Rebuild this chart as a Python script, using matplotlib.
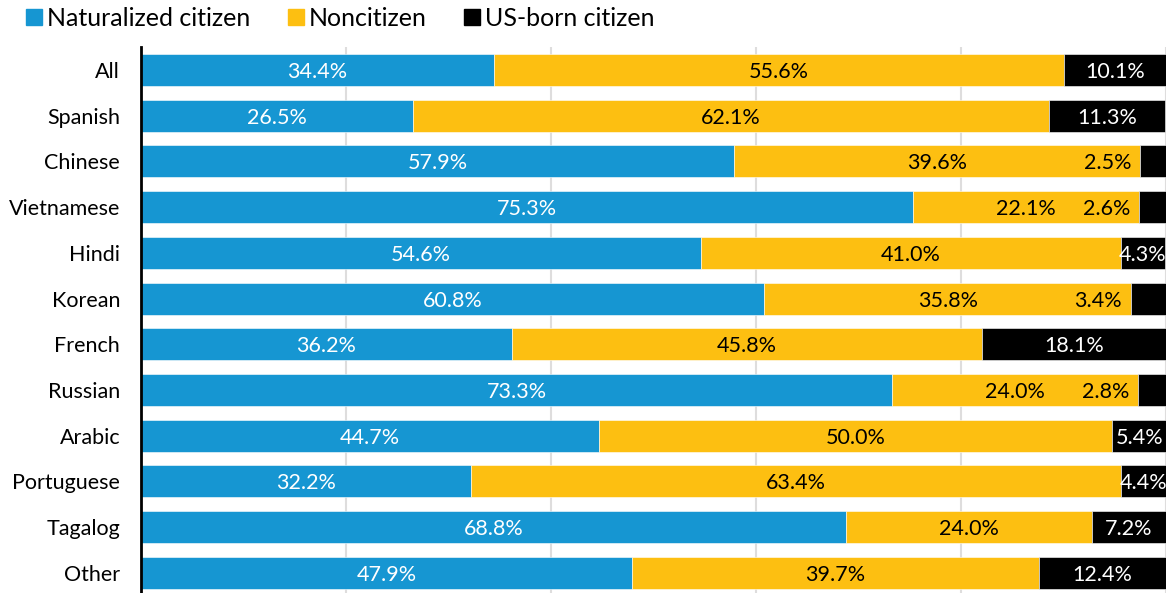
import numpy as np
import matplotlib
matplotlib.use("Agg")
import matplotlib.pyplot as plt
from matplotlib.patches import Patch

plt.rcParams['font.family'] = ['Lato', 'DejaVu Sans']

# data
languages = ["All", "Spanish", "Chinese", "Vietnamese", "Hindi", "Korean",
             "French", "Russian", "Arabic", "Portuguese", "Tagalog", "Other"]
naturalized = [34.4, 26.5, 57.9, 75.3, 54.6, 60.8, 36.2, 73.3, 44.7, 32.2, 68.8, 47.9]
noncitizen = [55.6, 62.1, 39.6, 22.1, 41.0, 35.8, 45.8, 24.0, 50.0, 63.4, 24.0, 39.7]
usborn = [10.1, 11.3, 2.5, 2.6, 4.3, 3.4, 18.1, 2.8, 5.4, 4.4, 7.2, 12.4]

blue = "#1696d2"
yellow = "#fdbf11"
black = "#000000"

fig = plt.figure(figsize=(11.72, 5.93), dpi=100)
ax = fig.add_axes([141 / 1172, 0.0, 1025 / 1172, 1 - 47 / 593])

y = np.arange(len(languages))
nat = np.array(naturalized)
non = np.array(noncitizen)
usb = np.array(usborn)

h = 0.7
ax.barh(y, nat, height=h, color=blue, edgecolor="white", linewidth=0.4, zorder=2)
ax.barh(y, non, left=nat, height=h, color=yellow, edgecolor="white", linewidth=0.4, zorder=2)
ax.barh(y, usb, left=nat + non, height=h, color=black, edgecolor="white", linewidth=0.4, zorder=2)

fs = 15.5
for i in range(len(languages)):
    ax.text(nat[i] / 2, y[i], f"{nat[i]:.1f}%", ha="center", va="center_baseline",
            color="white", fontsize=fs, zorder=3)
    ax.text(nat[i] + non[i] / 2, y[i], f"{non[i]:.1f}%", ha="center", va="center_baseline",
            color="black", fontsize=fs, zorder=3)
    start = nat[i] + non[i]
    if usb[i] < 4:
        # small segment: put label inside the yellow part, just left of black
        ax.text(start - 0.9, y[i], f"{usb[i]:.1f}%", ha="right", va="center_baseline",
                color="black", fontsize=fs, zorder=3)
    else:
        ax.text(start + usb[i] / 2, y[i], f"{usb[i]:.1f}%", ha="center", va="center_baseline",
                color="white", fontsize=fs, zorder=3)

ax.set_xlim(0, 100)
ax.set_ylim(11.44, -0.5)
ax.set_yticks(y)
ax.set_yticklabels(languages, fontsize=15.5)
for lbl in ax.get_yticklabels():
    lbl.set_va("center_baseline")
ax.set_xticks([20, 40, 60, 80, 100])
ax.tick_params(axis="y", length=0, pad=15)
ax.tick_params(axis="x", length=0, labelbottom=False)
ax.grid(axis="x", color="#dedddd", linewidth=1.5, zorder=0)
ax.set_axisbelow(True)
for s in ["top", "right", "bottom"]:
    ax.spines[s].set_visible(False)
ax.spines["left"].set_linewidth(2)
ax.spines["left"].set_zorder(4)

handles = [Patch(color=blue, label="Naturalized citizen"),
           Patch(color=yellow, label="Noncitizen"),
           Patch(color=black, label="US-born citizen")]
fig.legend(handles=handles, loc="upper left", bbox_to_anchor=(26 / 1172, 1 - 7 / 593), ncol=3,
           frameon=False, fontsize=18, handlelength=0.64, handleheight=0.64,
           handletextpad=0.2, columnspacing=1.5, borderpad=0, borderaxespad=0)

fig.savefig("out.png", dpi=100)
